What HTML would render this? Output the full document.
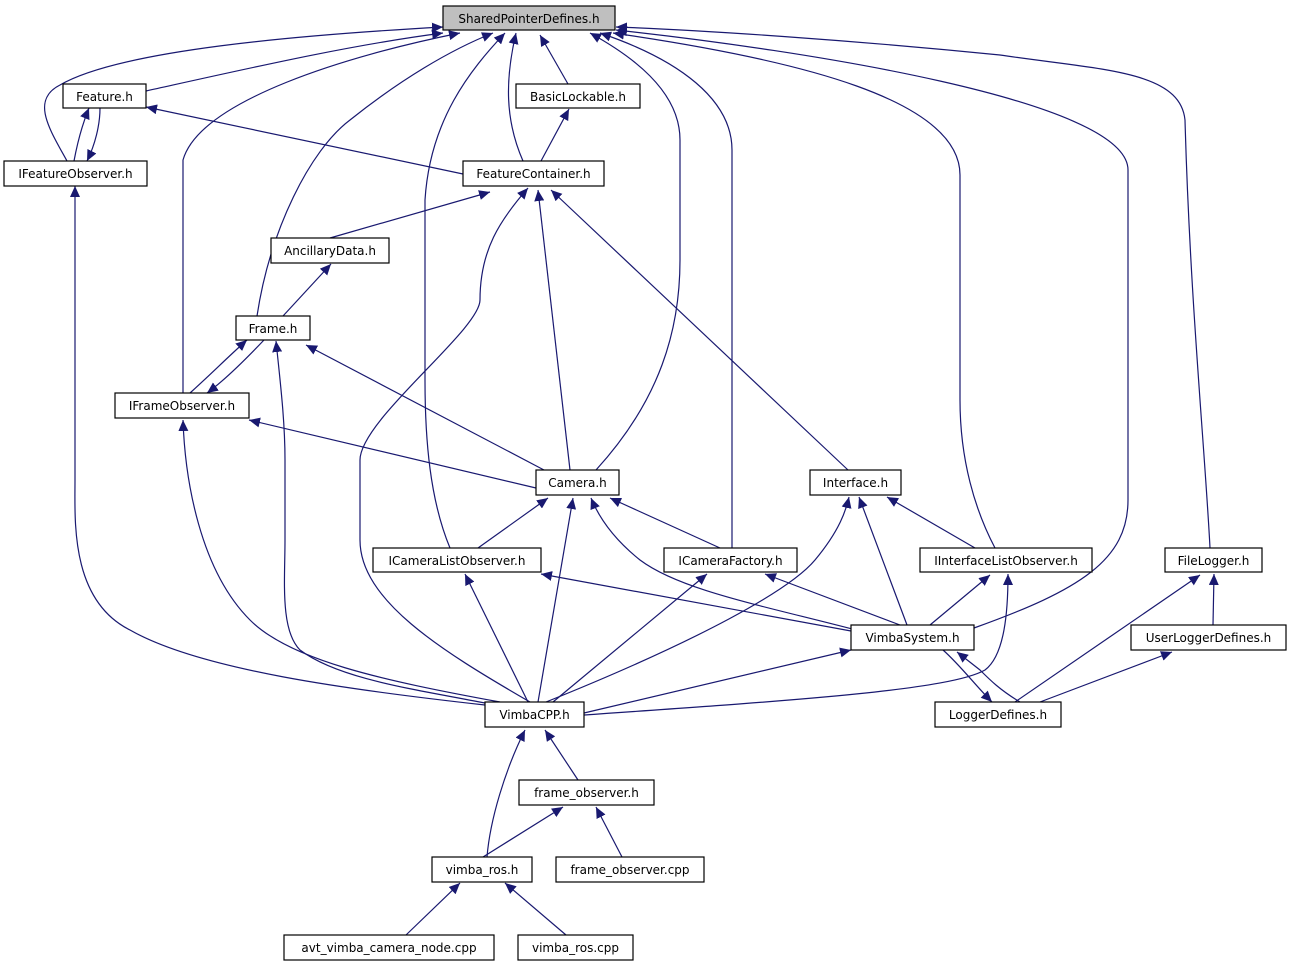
<!DOCTYPE html>
<html><head><meta charset="utf-8"><style>
html,body{margin:0;padding:0;background:#fff;}
svg{display:block;}
text{font-family:"DejaVu Sans","Liberation Sans",sans-serif;font-size:12px;fill:#000;}
</style></head><body>
<svg width="1292" height="968" viewBox="0 0 1292 968" xmlns="http://www.w3.org/2000/svg">
<defs>
<marker id="a" markerUnits="userSpaceOnUse" markerWidth="12" markerHeight="10" refX="11" refY="5" orient="auto">
<path d="M0,0 L11,5 L0,10 Z" fill="#191970"/>
</marker>
</defs>
<g fill="none" stroke="#191970" stroke-width="1.2" marker-end="url(#a)">
<!-- to SPD -->
<path d="M146,91 C250,68 350,45 443,33"/>
<path d="M67,161 C50,130 30,100 60,85 C120,50 300,35 443,27"/>
<path d="M568,84 L540,35"/>
<path d="M523,161 C505,120 505,80 516,33"/>
<path d="M257,316 C270,230 310,150 350,120 C400,80 450,50 493,33"/>
<path d="M183,393 C183,300 183,200 183,160 C200,100 350,55 460,33"/>
<path d="M596,470 C660,400 680,330 680,260 L680,140 C680,90 630,55 590,33"/>
<path d="M450,548 C430,500 425,440 425,380 L425,200 C430,120 470,70 505,33"/>
<path d="M732,548 L732,150 C732,100 680,60 600,33"/>
<path d="M995,548 C975,510 960,460 960,400 L960,175 C960,100 800,60 613,33"/>
<path d="M974,628 C1080,590 1128,560 1128,500 L1128,170 C1128,100 800,50 616,30"/>
<path d="M1210,548 C1205,450 1190,300 1185,120 C1180,70 1100,70 1000,55 C850,40 700,30 616,27"/>
<!-- Feature/IFO -->
<path d="M74,161 C77,145 82,125 89,108"/>
<path d="M100,108 C100,125 95,145 87,161"/>
<path d="M463,174 L146,107"/>
<path d="M541,161 L569,109"/>
<path d="M330,238 L490,192"/>
<path d="M283,316 L331,264"/>
<path d="M190,393 C210,375 230,355 247,340"/>
<path d="M264,340 C245,360 225,380 207,393"/>
<path d="M536,488 L249,420"/>
<path d="M544,470 L306,345"/>
<path d="M570,470 L538,190"/>
<path d="M848,470 L551,190"/>
<path d="M478,548 L548,498"/>
<path d="M720,548 L610,498"/>
<path d="M975,548 L887,497"/>
<!-- VimbaSystem -->
<path d="M856,630 C760,605 680,590 640,560 C615,540 600,520 591,498"/>
<path d="M851,631 L541,574"/>
<path d="M900,625 L765,574"/>
<path d="M930,625 L990,575"/>
<path d="M907,625 L859,497"/>
<path d="M1020,702 C1000,690 990,680 980,670 L957,652"/>
<path d="M943,650 C960,665 975,685 992,702"/>
<path d="M1015,702 L1200,575"/>
<path d="M1040,702 L1172,652"/>
<path d="M1213,625 L1214,574"/>
<!-- VimbaCPP -->
<path d="M584,713 L851,650"/>
<path d="M584,715 C800,700 950,690 985,670 C1005,655 1008,610 1008,574"/>
<path d="M553,702 L707,574"/>
<path d="M528,702 L465,574"/>
<path d="M538,702 L573,498"/>
<path d="M546,702 C700,640 790,590 815,560 C840,530 846,510 849,497"/>
<path d="M530,702 C440,650 360,600 360,540 L360,460 C360,420 480,330 480,300 C480,250 500,220 528,188"/>
<path d="M500,702 C380,680 290,660 250,620 C200,570 185,480 183,420"/>
<path d="M490,704 C420,690 340,680 300,650 C280,630 285,580 285,540 L285,460 C285,420 280,380 276,341"/>
<path d="M485,705 C350,690 200,670 130,630 C70,600 75,520 75,480 L75,186"/>
<path d="M578,780 L545,730"/>
<path d="M487,857 C490,820 505,770 525,730"/>
<path d="M483,857 L563,807"/>
<path d="M622,857 L596,807"/>
<path d="M406,935 L460,883"/>
<path d="M566,935 L505,883"/>
</g>
<g stroke="#000" stroke-width="1.2" fill="#fff">
<rect x="443" y="6" width="172" height="24" fill="#bfbfbf"/>
<rect x="63" y="84" width="83" height="24"/>
<rect x="516" y="84" width="124" height="24"/>
<rect x="4" y="161" width="143" height="25"/>
<rect x="463" y="161" width="141" height="25"/>
<rect x="271" y="238" width="118" height="25"/>
<rect x="236" y="316" width="74" height="24"/>
<rect x="115" y="393" width="134" height="25"/>
<rect x="536" y="470" width="83" height="25"/>
<rect x="810" y="470" width="91" height="25"/>
<rect x="373" y="548" width="168" height="24"/>
<rect x="664" y="548" width="133" height="24"/>
<rect x="920" y="548" width="172" height="24"/>
<rect x="1165" y="548" width="97" height="24"/>
<rect x="851" y="625" width="123" height="25"/>
<rect x="1131" y="625" width="155" height="25"/>
<rect x="485" y="702" width="99" height="25"/>
<rect x="935" y="702" width="126" height="25"/>
<rect x="519" y="780" width="135" height="25"/>
<rect x="432" y="857" width="100" height="25"/>
<rect x="556" y="857" width="148" height="25"/>
<rect x="284" y="935" width="210" height="25"/>
<rect x="518" y="935" width="115" height="25"/>
</g>
<g text-anchor="middle">
<text x="529" y="23">SharedPointerDefines.h</text>
<text x="104.5" y="101">Feature.h</text>
<text x="578" y="101">BasicLockable.h</text>
<text x="75.5" y="178">IFeatureObserver.h</text>
<text x="533.5" y="178">FeatureContainer.h</text>
<text x="330" y="255">AncillaryData.h</text>
<text x="273" y="333">Frame.h</text>
<text x="182" y="410">IFrameObserver.h</text>
<text x="577.5" y="487">Camera.h</text>
<text x="855.5" y="487">Interface.h</text>
<text x="457" y="565">ICameraListObserver.h</text>
<text x="730.5" y="565">ICameraFactory.h</text>
<text x="1006" y="565">IInterfaceListObserver.h</text>
<text x="1213.5" y="565">FileLogger.h</text>
<text x="912.5" y="642">VimbaSystem.h</text>
<text x="1208.5" y="642">UserLoggerDefines.h</text>
<text x="534.5" y="719">VimbaCPP.h</text>
<text x="998" y="719">LoggerDefines.h</text>
<text x="586.5" y="797">frame_observer.h</text>
<text x="482" y="874">vimba_ros.h</text>
<text x="630" y="874">frame_observer.cpp</text>
<text x="389" y="952">avt_vimba_camera_node.cpp</text>
<text x="575.5" y="952">vimba_ros.cpp</text>
</g>
</svg>
</body></html>
